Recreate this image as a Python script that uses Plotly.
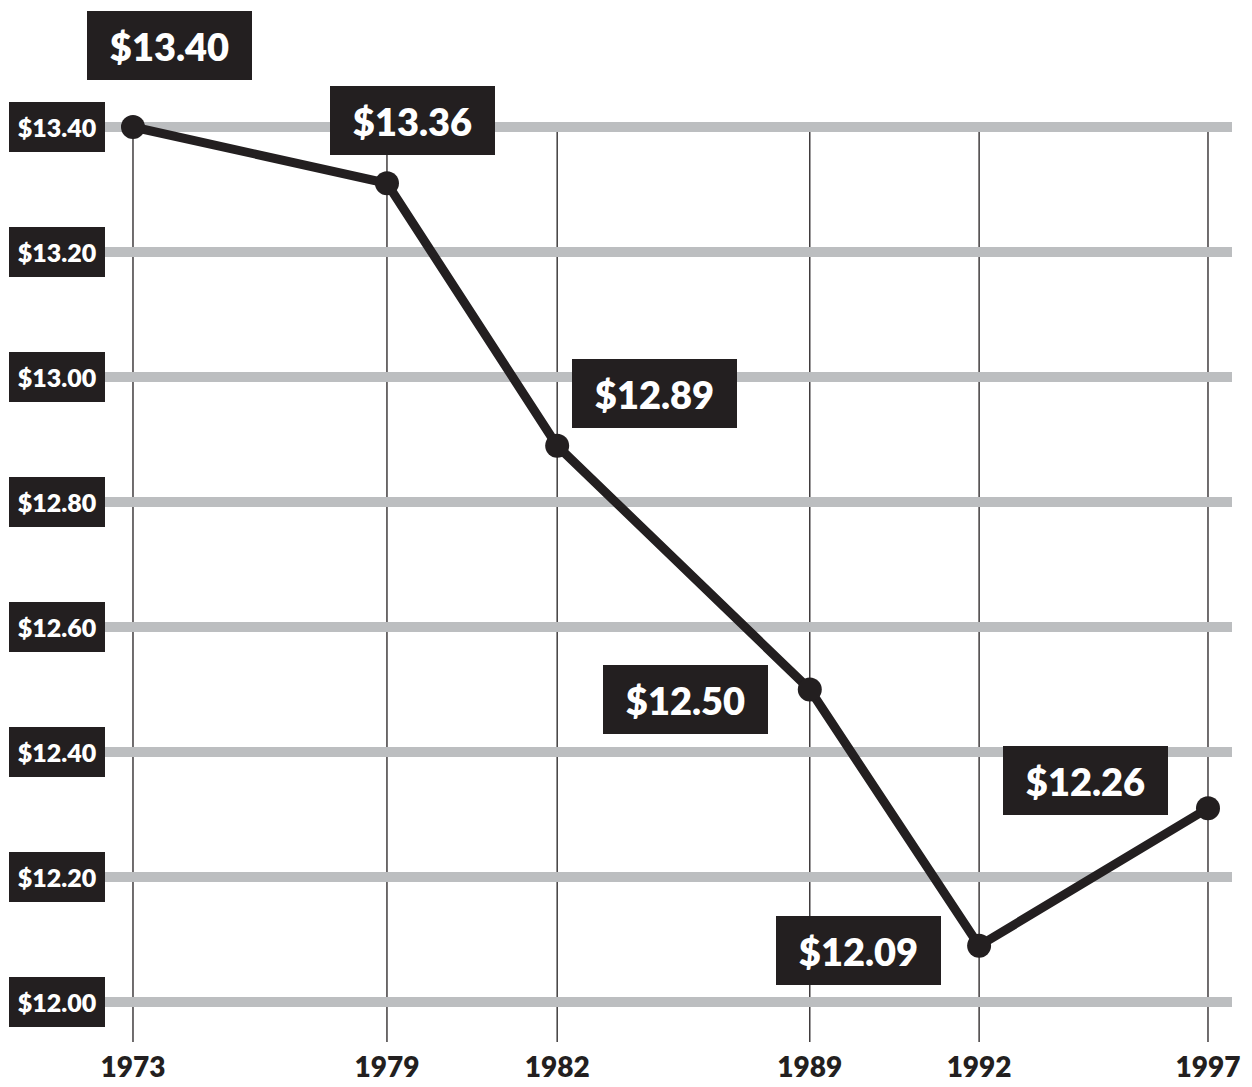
import plotly.graph_objects as go

# ---------------- data ----------------
years = ["1973", "1979", "1982", "1989", "1992", "1997"]
wage = [13.40, 13.31, 12.89, 12.50, 12.09, 12.31]          # plotted positions
wage_labels = ["$13.40", "$13.36", "$12.89", "$12.50", "$12.09", "$12.26"]
y_ticks = [12.00, 12.20, 12.40, 12.60, 12.80, 13.00, 13.20, 13.40]
y_tick_labels = ["$12.00", "$12.20", "$12.40", "$12.60", "$12.80", "$13.00", "$13.20", "$13.40"]

# ---------------- layout / style ----------------
x_slots = [0, 5.67, 9.47, 15.11, 18.89, 24]   # horizontal placement of the year columns
label_dx = [37, 26, 97, -124, -121, -122]       # label box offsets (px) from their points
label_dy = [82, 63, 52, -10, -5, 28]

DARK = "#231f20"
GRAY = "#bcbec0"
FONT = "Lato"

# the page body has an 8px margin; size the figure so it ends at the window edge
W, H = 1244, 1079
L, R, T, B = 97, 20, 92, 45
x_range = [-0.625, 24.536]
y_range = [11.936, 13.4432]

fig = go.Figure()

fig.add_trace(go.Scatter(
    x=x_slots, y=wage, mode="lines+markers",
    line=dict(color=DARK, width=9),
    marker=dict(color=DARK, size=24),
    cliponaxis=False, hoverinfo="skip", showlegend=False,
))

shapes = []
for xs in x_slots:
    shapes.append(dict(type="line", xref="x", yref="y", x0=xs, x1=xs,
                       y0=y_ticks[-1], y1=y_range[0],
                       line=dict(color=DARK, width=1.3), layer="below"))

annotations = []
for v, t in zip(y_ticks, y_tick_labels):
    annotations.append(dict(
        xref="paper", yref="y", x=0, y=v, xanchor="right", yanchor="middle",
        text=t, showarrow=False, width=96, height=50, bgcolor=DARK,
        borderpad=0, borderwidth=0,
        font=dict(family=FONT, size=25, color="white", weight=800),
    ))

for xs, v, t, dx, dy in zip(x_slots, wage, wage_labels, label_dx, label_dy):
    annotations.append(dict(
        xref="x", yref="y", x=xs, y=v, xanchor="center", yanchor="middle",
        xshift=dx, yshift=dy,
        text=t, showarrow=False, width=165, height=69, bgcolor=DARK,
        borderpad=0, borderwidth=0,
        font=dict(family=FONT, size=38, color="white", weight=800),
    ))

fig.update_layout(
    width=W, height=H,
    margin=dict(l=L, r=R, t=T, b=B, pad=0, autoexpand=False),
    paper_bgcolor="white", plot_bgcolor="white",
    shapes=shapes, annotations=annotations,
    xaxis=dict(
        range=x_range, tickvals=x_slots, ticktext=years,
        showgrid=False, zeroline=False, showline=False, ticks="",
        tickfont=dict(family=FONT, size=28, color=DARK, weight=800),
        ticklabelstandoff=6, automargin=False, fixedrange=True,
    ),
    yaxis=dict(
        range=y_range, tickvals=y_ticks, showticklabels=False,
        showgrid=True, gridcolor=GRAY, gridwidth=10, automargin=False,
        zeroline=False, showline=False, ticks="", fixedrange=True,
    ),
)

fig.write_html("out.html")
